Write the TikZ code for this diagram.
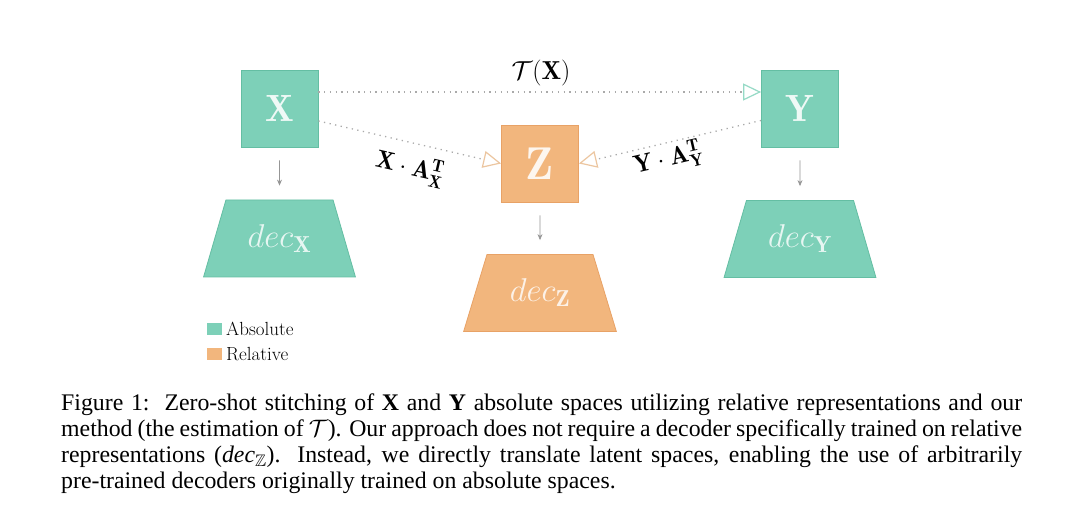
\RequirePackage{fix-cm}
\documentclass[tikz,border=0pt]{standalone}
\usepackage{amssymb}
\usepackage{fontspec}
\newfontfamily\timesfont{Liberation Serif}
\usetikzlibrary{arrows.meta,shapes.geometric}
\definecolor{tealc}{RGB}{125,208,184}
\definecolor{tealb}{RGB}{100,190,163}
\definecolor{tealtip}{RGB}{150,218,198}
\definecolor{orc}{RGB}{242,182,125}
\definecolor{orb}{RGB}{232,162,102}
\definecolor{ortip}{RGB}{236,198,160}
\definecolor{dotgray}{RGB}{170,170,170}
\definecolor{arrgray}{RGB}{150,150,150}
\tikzset{
  absbox/.style={fill=tealc, draw=tealb, line width=0.8pt, minimum width=77pt, minimum height=77pt, inner sep=0pt, text=white, text opacity=0.88},
  relbox/.style={fill=orc, draw=orb, line width=0.8pt, minimum width=77pt, minimum height=77pt, inner sep=0pt, text=white, text opacity=0.88},
  dectrap/.style={shape=trapezium, trapezium stretches=true, trapezium left angle=64.5, trapezium right angle=64.5, minimum width=153pt, minimum height=77pt, inner sep=0pt, line width=0.8pt, text=white, text opacity=0.82, font=\fontsize{33}{35}\selectfont},
  dotline/.style={draw=dotgray, line width=1.3pt, dash pattern=on 1.3pt off 4.4pt},
  downarr/.style={draw=arrgray, line width=0.7pt, -{Stealth[length=6pt,width=5pt]}, shorten <=13pt, shorten >=14pt},
  legsq/.style={minimum width=15pt, minimum height=12pt, inner sep=0pt},
  legtxt/.style={anchor=base west, inner sep=0pt, font=\fontsize{19}{22}\selectfont},
  mlabel/.style={inner sep=0pt, font=\fontsize{25}{28}\selectfont},
}
\begin{document}
\begin{tikzpicture}[x=1pt,y=-1pt]
\path[use as bounding box, fill=white] (0,0) rectangle (1080,526);
% boxes
\node[absbox, font=\fontsize{38}{40}\selectfont] (X) at (279.5,108.5) {$\mathbf{X}$};
\node[absbox, font=\fontsize{38}{40}\selectfont] (Y) at (800,108.5) {$\mathbf{Y}$};
\node[relbox, font=\fontsize{46}{48}\selectfont] (Z) at (540,163.5) {$\mathbf{Z}$};
% decoders
\node[dectrap, fill=tealc, draw=tealb] (decX) at (279.5,238.5) {$dec_{\mathbf{X}}$};
\node[dectrap, fill=tealc, draw=tealb] (decY) at (800,239) {$dec_{\mathbf{Y}}$};
\node[dectrap, fill=orc, draw=orb] (decZ) at (540,293) {$dec_{\mathbf{Z}}$};
% down arrows
\draw[downarr] (X.south) -- (decX.north);
\draw[downarr] (Y.south) -- (decY.north);
\draw[downarr] (Z.south) -- (decZ.north);
% dotted connectors
\draw[dotline, -{Triangle[open, length=18pt, width=17pt, color=tealtip, line width=1.2pt]}] ([yshift=16.5pt]X.east) -- ([yshift=16.5pt]Y.west);
\draw[dotline, -{Triangle[open, length=18pt, width=17pt, color=ortip, line width=1.2pt]}] ([yshift=-12.5pt]X.east) -- (Z.west);
\draw[dotline, -{Triangle[open, length=18pt, width=17pt, color=ortip, line width=1.2pt]}] ([yshift=-12pt]Y.west) -- (Z.east);
% labels
\node[inner sep=0pt, font=\fontsize{26}{28}\selectfont] (tx) at (541,73) {$\mathcal{T}(\mathbf{X})$};
\node[mlabel, rotate=-13] (lx) at (410,168) {$\mathbf{X}\cdot\mathbf{A}_{\mathbf{X}}^{\mathbf{T}}$};
\node[mlabel, rotate=13] (ly) at (668,159) {$\mathbf{Y}\cdot\mathbf{A}_{\mathbf{Y}}^{\mathbf{T}}$};
% legend
\node[legsq, fill=tealc] (sqA) at (214.5,329) {};
\node[legsq, fill=orc] (sqR) at (214.5,354.5) {};
\node[legtxt] (labA) at (226,335.5) {Absolute};
\node[legtxt] (labR) at (226,361) {Relative};
% caption
\node[anchor=north west, inner sep=0pt, text width=961pt, align=justify, font=\timesfont\fontsize{23.8}{26}\selectfont] (cap) at (61,394)
{Figure 1:\hspace{0.15em} Zero-shot stitching of \textbf{X} and \textbf{Y} absolute spaces utilizing relative representations and our\linebreak method (the estimation of $\mathcal{T}$). Our approach does not require a decoder specifically trained on relative\linebreak representations (\textit{dec}$_{\mathbb{Z}}$). Instead, we directly translate latent spaces, enabling the use of arbitrarily\linebreak pre-trained decoders originally trained on absolute spaces.};
\end{tikzpicture}
\end{document}
